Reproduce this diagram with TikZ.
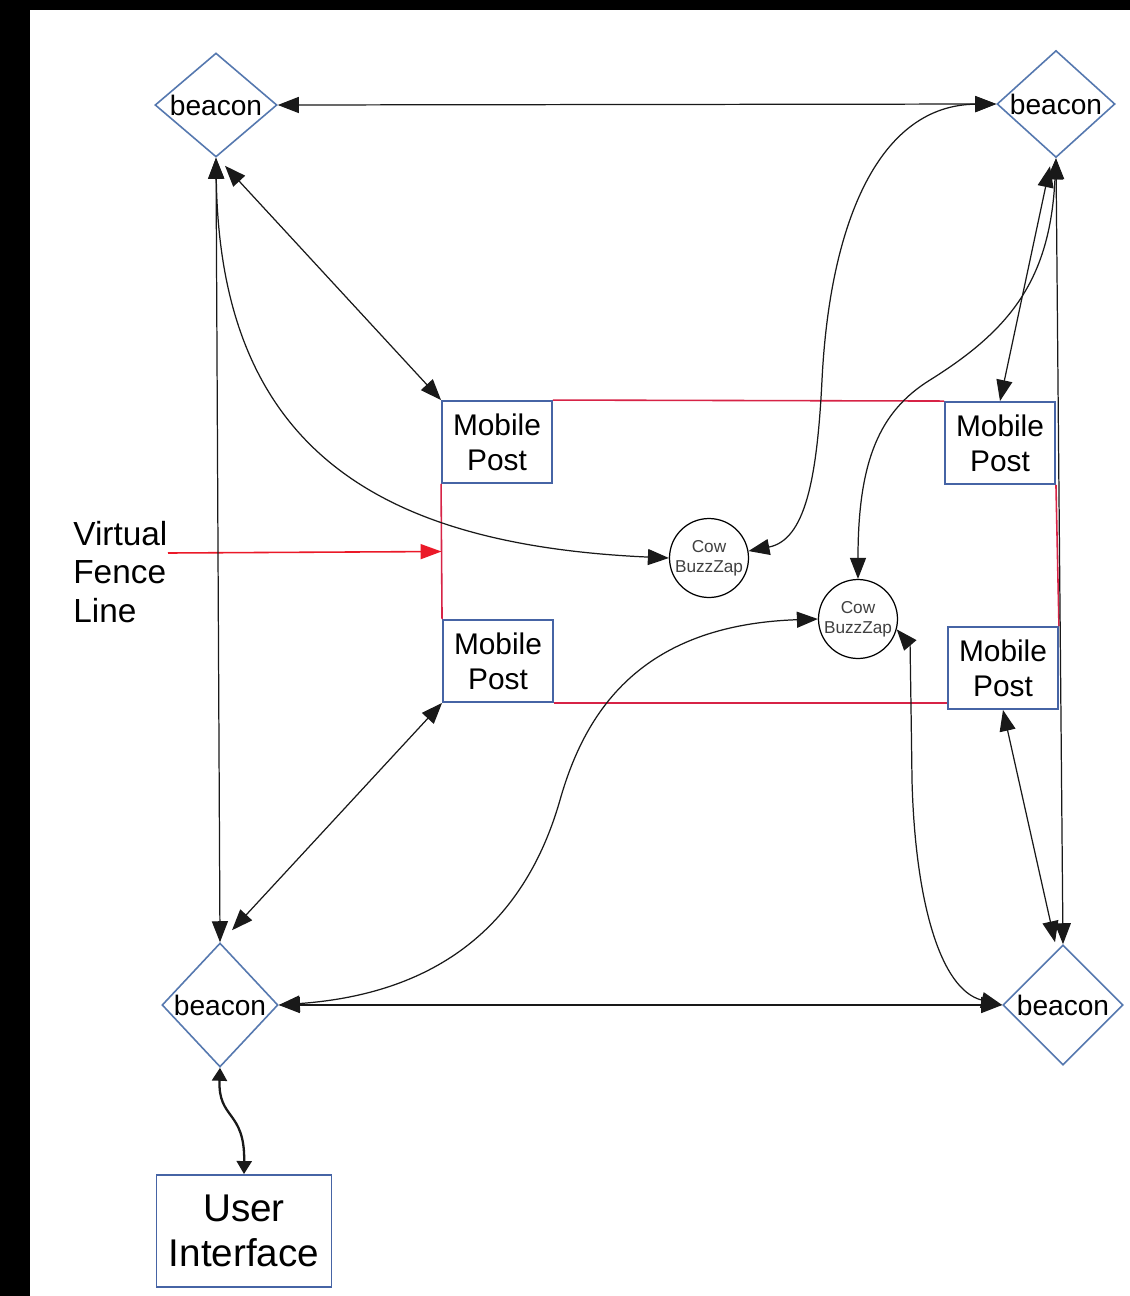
\documentclass[tikz,border=0pt]{standalone}
\usepackage{fontspec}
\setmainfont{Liberation Sans}
\usetikzlibrary{shapes.geometric,arrows.meta,calc}
\definecolor{boxblue}{RGB}{70,100,165}
\definecolor{diablue}{RGB}{85,120,175}
\definecolor{fencered}{RGB}{215,35,70}
\definecolor{arrred}{RGB}{235,25,40}
\definecolor{linec}{RGB}{25,25,25}
\begin{document}
\begin{tikzpicture}[x=0.02cm,y=-0.02cm,
  beacon/.style={diamond, draw=diablue, line width=0.9pt, inner sep=0pt, fill=white,
    font=\fontsize{16pt}{18pt}\selectfont},
  post/.style={rectangle, draw=boxblue, line width=1.1pt, minimum width=2.2cm,
    minimum height=1.64cm, align=center, inner sep=0pt, fill=white,
    font=\fontsize{17pt}{20pt}\selectfont},
  zap/.style={circle, draw=black, line width=0.7pt, minimum size=1.58cm, inner sep=0pt,
    align=center, text=black!75, fill=white, font=\fontsize{9.8pt}{11.5pt}\selectfont},
  uibox/.style={rectangle, draw=boxblue, line width=1.1pt, minimum width=3.5cm,
    minimum height=2.24cm, align=center, inner sep=0pt,
    font=\fontsize{22pt}{26pt}\selectfont},
  link/.style={draw=linec, line width=0.7pt,
    {Triangle[length=0.42cm,width=0.32cm]}-{Triangle[length=0.42cm,width=0.32cm]}},
  uilink/.style={draw=linec, line width=1.3pt,
    {Triangle[length=0.26cm,width=0.3cm]}-{Triangle[length=0.26cm,width=0.3cm]}},
  fence/.style={draw=fencered, line width=0.9pt},
]
\useasboundingbox (0,0) rectangle (1130,1296);
\fill[black] (0,0) rectangle (1130,1296);
\fill[white] (30,10) rectangle (1130,1296);

% beacons
\node[beacon, aspect=1.17, minimum width=2.44cm, minimum height=2.08cm] (tl) at (216,105) {beacon};
\node[beacon, aspect=1.1, minimum width=2.36cm, minimum height=2.14cm] (tr) at (1056,104) {beacon};
\node[beacon, aspect=0.94, minimum width=2.32cm, minimum height=2.48cm] (bl) at (220,1005) {beacon};
\node[beacon, aspect=1.0, minimum width=2.4cm, minimum height=2.4cm] (br) at (1063,1005) {beacon};

% mobile posts
\node[post] (mp1) at (497,442) {Mobile\\Post};
\node[post] (mp2) at (1000,443) {Mobile\\Post};
\node[post] (mp3) at (498,661) {Mobile\\Post};
\node[post] (mp4) at (1003,668) {Mobile\\Post};

% cow buzz zaps
\node[zap] (cz1) at (709,558) {Cow\\BuzzZap};
\node[zap] (cz2) at (858,619) {Cow\\BuzzZap};

% user interface
\node[uibox] (ui) at (244,1231) {User\\Interface};

% virtual fence label
\node[anchor=west, align=left, inner sep=0pt, font=\fontsize{19pt}{22pt}\selectfont] (vfl) at (73,572) {Virtual\\Fence\\Line};
\coordinate (vfs) at (168,553);
\coordinate (vft) at ($(mp1.south west)!0.5!(mp3.north west)$);

% fence line
\draw[fence] (mp1.north east) -- (mp2.north west);
\draw[fence] (mp2.south east) -- (mp4.north east);
\draw[fence] (mp3.south east) -- (mp3.south east -| mp4.west);
\draw[fence] (mp3.north west) -- (mp1.south west);
\draw[draw=arrred, line width=0.9pt, -{Triangle[length=0.42cm,width=0.3cm]}] (vfs) -- (vft);

% straight links
\draw[link] (tl.east) -- (tr.west);
\draw[link] (bl.east) -- (br.west);
\draw[link] (tl.south) -- (bl.north);
\draw[link] (tr.south) -- (br.north);
\draw[link] ($(tl.south)+(9,8)$) -- (mp1.north west);
\draw[link] ($(bl.north)+(12,-12)$) -- (mp3.south west);
\draw[link] ($(tr.south)+(-6,8)$) -- (mp2.north);
\draw[link] (mp4.south) -- ($(br.north)+(-8,-2)$);

% curved links
\draw[link] (tl.south) .. controls (220,450) and (380,545) .. (cz1.west);
\draw[link] (tr.west) .. controls (880,105) and (830,220) .. (822,380)
   .. controls (817,480) and (805,540) .. (cz1.10);
\draw[link] (tr.south) .. controls (1050,280) and (1010,330) .. (930,380)
   .. controls (880,411) and (858,460) .. (cz2.north);
\draw[link] (bl.east) .. controls (420,995) and (520,940) .. (560,800)
   .. controls (585,712) and (640,625) .. (cz2.west);
\draw[link] (br.west) .. controls (940,990) and (915,900) .. (912,780)
   .. controls (911,700) and (910,645) .. (cz2.-15);
\draw[uilink] (bl.south) .. controls (218,1120) and (245,1110) .. (ui.north);
\end{tikzpicture}
\end{document}
